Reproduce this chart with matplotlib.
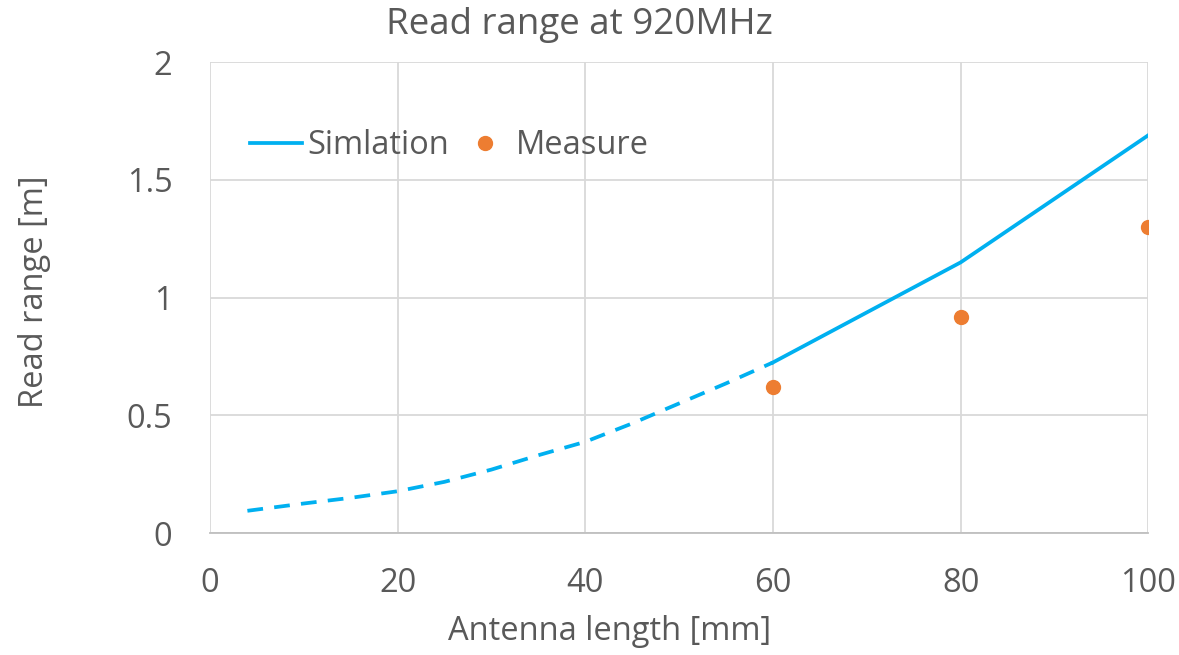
import matplotlib
matplotlib.use("Agg")
import matplotlib.pyplot as plt

# simulation, extrapolated part (dashed) and simulated part (solid)
sim_dash_x = [4, 10, 15, 20, 25, 30, 35, 40, 45, 50, 55, 60]
sim_dash_y = [0.095, 0.126, 0.15, 0.178, 0.218, 0.27, 0.331, 0.388,
              0.466, 0.551, 0.636, 0.725]
sim_x = [60, 80, 100]
sim_y = [0.725, 1.15, 1.69]

# measured points
meas_x = [60, 80, 100]
meas_y = [0.62, 0.92, 1.30]

x_ticks = [0, 20, 40, 60, 80, 100]
y_ticks = [0, 0.5, 1, 1.5, 2]
y_tick_labels = ["0", "0.5", "1", "1.5", "2"]

plt.rcParams["font.family"] = ["Open Sans", "DejaVu Sans"]
text_col = "#595959"
blue = "#00b0f0"
orange = "#ed7d31"
fs = 23.5

fig = plt.figure(figsize=(11.79, 6.55), dpi=100)
ax = fig.add_axes([0.178, 0.186, 0.796, 0.719])

ax.plot(sim_dash_x, sim_dash_y, color=blue, lw=2.7, dashes=(4.2, 3.0))
ax.plot(sim_x, sim_y, color=blue, lw=2.7, label="Simlation")
ax.plot(meas_x, meas_y, "o", color=orange, ms=10, label="Measure")

ax.set_xlim(0, 100)
ax.set_ylim(0, 2)
ax.set_xticks(x_ticks)
ax.set_yticks(y_ticks)
ax.set_yticklabels(y_tick_labels)
ax.grid(True, color="#d9d9d9", lw=1.3)
ax.set_axisbelow(True)
for side in ["top", "right", "left"]:
    ax.spines[side].set_visible(False)
ax.spines["bottom"].set_color("#bfbfbf")
ax.spines["bottom"].set_linewidth(1.3)
ax.tick_params(length=0, labelsize=fs, colors=text_col)
ax.tick_params(axis="y", pad=27)
ax.tick_params(axis="x", pad=24)

fig.text(579 / 1179, 1 - 25 / 655, "Read range at 920MHz", fontsize=26.5,
         color=text_col, ha="center", va="center")
fig.text(610 / 1179, 1 - 632 / 655, "Antenna length [mm]", fontsize=fs,
         color=text_col, ha="center", va="center")
fig.text(35 / 1179, 1 - 292 / 655, "Read range [m]", fontsize=fs,
         color=text_col, ha="center", va="center", rotation=90)

leg = ax.legend(loc="center left", bbox_to_anchor=(250 / 1179, 1 - 146 / 655),
                bbox_transform=fig.transFigure, ncol=2, frameon=False,
                fontsize=fs, handlelength=1.6, handletextpad=0.15,
                columnspacing=0.3, borderpad=0, borderaxespad=0)
for t in leg.get_texts():
    t.set_color(text_col)

fig.savefig("out.png", dpi=100)
